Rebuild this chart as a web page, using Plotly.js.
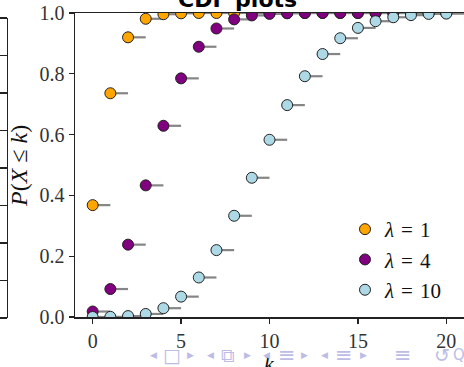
<!DOCTYPE html>
<html>
<head>
<meta charset="utf-8">
<script src="https://cdn.plot.ly/plotly-3.0.1.min.js"></script>
<style>html,body{margin:0;padding:0;background:#fff;}#chart{width:464px;height:367px;}</style>
</head>
<body>
<div id="chart"></div>
<script>
// ---- data ----
const kValues = [0,1,2,3,4,5,6,7,8,9,10,11,12,13,14,15,16,17,18,19,20];
const cdfLambda1 = [0.368,0.736,0.920,0.981,0.996,0.999,1.0,1.0,1.0,1.0,1.0,1.0,1.0,1.0,1.0,1.0,1.0,1.0,1.0,1.0,1.0];
const cdfLambda4 = [0.018,0.092,0.238,0.433,0.629,0.785,0.889,0.949,0.979,0.992,0.997,0.999,1.0,1.0,1.0,1.0,1.0,1.0,1.0,1.0,1.0];
const cdfLambda10 = [0.0,0.0005,0.003,0.010,0.029,0.067,0.130,0.220,0.333,0.458,0.583,0.697,0.792,0.865,0.917,0.951,0.973,0.986,0.993,0.997,0.998];
const seriesNames = ['<i>λ</i>\u2004=\u20041','<i>λ</i>\u2004=\u20044','<i>λ</i>\u2004=\u200410'];
const seriesColors = ['#FFA500','#800080','#ADD8E6'];
const xTickVals = [0,5,10,15,20];
const yTickVals = [0,0.2,0.4,0.6,0.8,1.0];
const yTickText = ['0.0','0.2','0.4','0.6','0.8','1.0'];

// ---- geometry helpers (page px -> paper) ----
const W = 464, H = 367, MT = 10, MB = 45;
const PH = H - MT - MB;
const px = x => x / W;
const py = y => (H - MB - y) / PH;

const allSeries = [cdfLambda1, cdfLambda4, cdfLambda10];
const traces = [];
// step segments (from k to k+1)
allSeries.forEach((vals) => {
  const sx = [], sy = [];
  kValues.forEach((k, i) => { sx.push(k, k + 1, null); sy.push(vals[i], vals[i], null); });
  traces.push({x: sx, y: sy, mode: 'lines', line: {color: '#858585', width: 2.2},
               showlegend: false, hoverinfo: 'skip'});
});
allSeries.forEach((vals, s) => {
  traces.push({x: kValues, y: vals, mode: 'markers', name: seriesNames[s],
    marker: {size: 11, color: seriesColors[s], line: {color: '#222', width: 1}}});
});
// empty trace for the neighbouring frame edge at the far left
traces.push({x: [], y: [], xaxis: 'x2', yaxis: 'y2', showlegend: false, hoverinfo: 'skip'});

const serif = '"Liberation Serif", serif';
const sans = '"DejaVu Sans", sans-serif';
const navColor = '#bcbce6';
const navItems = [
  ['◀',153,9],['□',172,19],['▶',190,9],
  ['◀',210,9],['⧉',228,19],['▶',247,9],
  ['◀',266,9],['≡',287,21],['▶',304,9],
  ['◀',324,9],['≡',344,21],['▶',363,9],
  ['≡',403,21],['↺',442,19],['Q',459,15]
];
const annotations = [
  {text: '<b>CDF plots</b>', x: px(237), y: py(14), xref: 'paper', yref: 'paper', xanchor: 'center', yanchor: 'bottom',
   showarrow: false, font: {family: sans, size: 22, color: '#000'}},
  {text: '<i>P</i>(<i>X</i> ≤ <i>k</i>)', x: px(19), y: py(166), xref: 'paper', yref: 'paper', textangle: -90,
   xanchor: 'center', yanchor: 'middle', showarrow: false, font: {family: serif, size: 24, color: '#111'}},
  {text: '<i>k</i>', x: px(269), y: py(363), xref: 'paper', yref: 'paper', xanchor: 'center', yanchor: 'middle',
   showarrow: false, font: {family: serif, size: 22, color: '#111'}}
];
navItems.forEach(([t, x, s]) => annotations.push({text: t, x: px(x), y: py(355), xref: 'paper', yref: 'paper',
  xanchor: 'center', yanchor: 'middle', showarrow: false, font: {family: sans, size: s, color: navColor}}));

const layout = {
  width: W, height: H,
  margin: {l: 0, r: 0, t: MT, b: MB, pad: 0},
  paper_bgcolor: '#fff', plot_bgcolor: '#fff',
  showlegend: true,
  legend: {x: px(345), y: py(209), xanchor: 'left', yanchor: 'top', bgcolor: 'rgba(0,0,0,0)',
           font: {family: serif, size: 21, color: '#111'}, itemwidth: 30},
  xaxis: {domain: [px(75), 1], range: [-1, 21], tickvals: xTickVals, ticks: 'outside', ticklen: 5, tickwidth: 1.2,
          tickcolor: '#222', showline: true, linecolor: '#222', linewidth: 1.5, mirror: true,
          showgrid: false, zeroline: false, tickfont: {family: serif, size: 20, color: '#333'}},
  yaxis: {domain: [py(317), py(13)], range: [0, 1], tickvals: yTickVals, ticktext: yTickText, ticks: 'outside',
          ticklen: 5, tickwidth: 1.2, tickcolor: '#222', showline: true, linecolor: '#222', linewidth: 1.5,
          showgrid: false, zeroline: false, tickfont: {family: serif, size: 20, color: '#333'}},
  xaxis2: {domain: [px(8), px(9)], range: [0, 1], visible: false, anchor: 'y2'},
  yaxis2: {domain: [py(318), py(18)], range: [0, 8], dtick: 1, anchor: 'x2', ticks: 'outside', ticklen: 8,
           tickwidth: 1.2, tickcolor: '#222', showline: true, linecolor: '#222', linewidth: 1.5,
           showticklabels: false, showgrid: false, zeroline: false},
  annotations: annotations
};
Plotly.newPlot('chart', traces, layout, {staticPlot: true, displayModeBar: false});
</script>
</body>
</html>
